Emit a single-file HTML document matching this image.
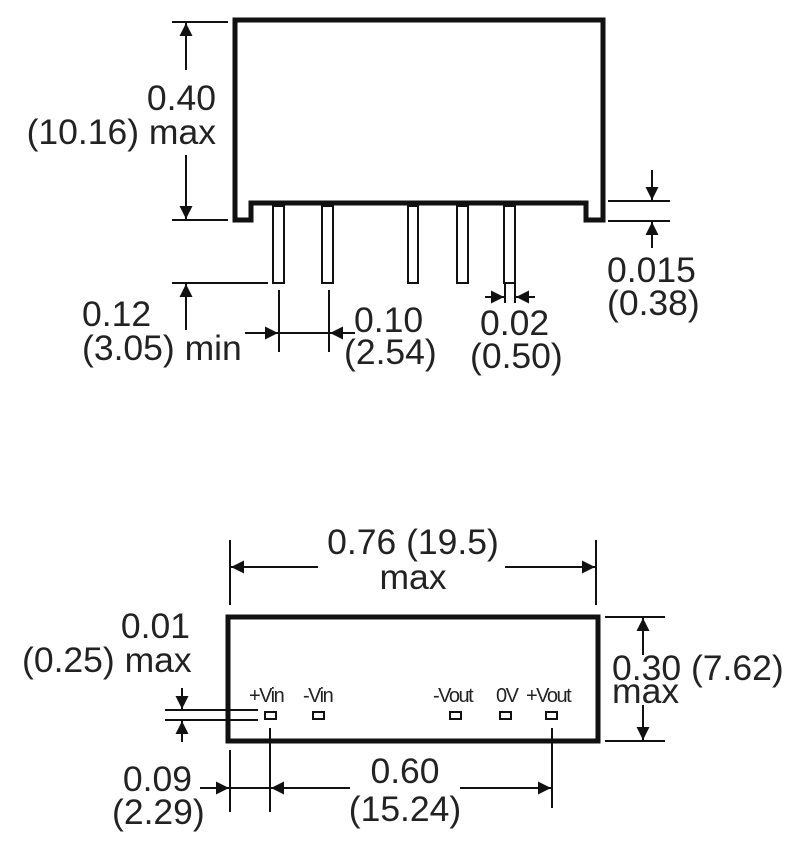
<!DOCTYPE html>
<html><head><meta charset="utf-8"><style>
html,body{margin:0;padding:0;background:#fff}
svg{display:block}
text{font-family:"Liberation Sans",sans-serif;fill:#222}
.b{font-size:35.5px}
.s{font-size:20px;letter-spacing:-1.5px}
</style></head><body>
<svg width="800" height="852" viewBox="0 0 800 852" xmlns="http://www.w3.org/2000/svg">
<defs>
<marker id="a" viewBox="0 0 10 10" refX="10" refY="5" markerWidth="15" markerHeight="13" markerUnits="userSpaceOnUse" orient="auto"><path d="M0,0L10,5L0,10Z" fill="#111"/></marker>
</defs>
<g stroke="#111" fill="none">
<path d="M235,20H603V220H586V203H251V220H235Z" stroke-width="5"/>
<g stroke-width="2">
<rect x="273" y="206" width="11" height="77"/>
<rect x="322" y="206" width="11" height="77"/>
<rect x="408" y="206" width="10" height="77"/>
<rect x="457" y="206" width="11" height="77"/>
<rect x="504" y="206" width="11" height="77"/>
</g>
<g stroke-width="2">
<line x1="172" y1="22" x2="228" y2="22"/>
<line x1="172" y1="220" x2="228" y2="220"/>
<line x1="172" y1="283" x2="268" y2="283"/>
<line x1="186" y1="70" x2="186" y2="23" marker-end="url(#a)"/>
<line x1="186" y1="155" x2="186" y2="219" marker-end="url(#a)"/>
<line x1="186" y1="330" x2="186" y2="284" marker-end="url(#a)"/>
<line x1="279" y1="290" x2="279" y2="352"/>
<line x1="329" y1="290" x2="329" y2="352"/>
<line x1="245" y1="333" x2="278" y2="333" marker-end="url(#a)"/>
<line x1="279" y1="333" x2="329" y2="333"/>
<line x1="355" y1="333" x2="330" y2="333" marker-end="url(#a)"/>
<line x1="505" y1="283" x2="505" y2="303"/>
<line x1="515" y1="283" x2="515" y2="303"/>
<line x1="485" y1="297" x2="504" y2="297" marker-end="url(#a)"/>
<line x1="535" y1="297" x2="516" y2="297" marker-end="url(#a)"/>
<line x1="608" y1="201" x2="670" y2="201"/>
<line x1="608" y1="221" x2="670" y2="221"/>
<line x1="652" y1="170" x2="652" y2="200" marker-end="url(#a)"/>
<line x1="652" y1="248" x2="652" y2="222" marker-end="url(#a)"/>
</g>
<rect x="228" y="617" width="370" height="124" stroke-width="5"/>
<g stroke-width="2">
<rect x="265" y="712" width="11" height="7"/>
<rect x="313" y="712" width="11" height="7"/>
<rect x="450" y="712" width="11" height="7"/>
<rect x="500" y="712" width="11" height="7"/>
<rect x="546" y="712" width="11" height="7"/>
<line x1="230" y1="540" x2="230" y2="605"/>
<line x1="596" y1="540" x2="596" y2="605"/>
<line x1="318" y1="567" x2="231" y2="567" marker-end="url(#a)"/>
<line x1="505" y1="567" x2="595" y2="567" marker-end="url(#a)"/>
<line x1="605" y1="617" x2="665" y2="617"/>
<line x1="605" y1="741" x2="665" y2="741"/>
<line x1="643" y1="655" x2="643" y2="618" marker-end="url(#a)"/>
<line x1="643" y1="705" x2="643" y2="740" marker-end="url(#a)"/>
<line x1="165" y1="710" x2="258" y2="710"/>
<line x1="165" y1="720" x2="258" y2="720"/>
<line x1="182" y1="688" x2="182" y2="709" marker-end="url(#a)"/>
<line x1="182" y1="742" x2="182" y2="721" marker-end="url(#a)"/>
<line x1="230" y1="750" x2="230" y2="812"/>
<line x1="270" y1="728" x2="270" y2="812"/>
<line x1="552" y1="728" x2="552" y2="808"/>
<line x1="200" y1="788" x2="229" y2="788" marker-end="url(#a)"/>
<line x1="230" y1="788" x2="270" y2="788"/>
<line x1="350" y1="788" x2="271" y2="788" marker-end="url(#a)"/>
<line x1="460" y1="788" x2="551" y2="788" marker-end="url(#a)"/>
</g>
</g>
<text class="b" x="216" y="110" text-anchor="end">0.40</text>
<text class="b" x="216" y="144" text-anchor="end">(10.16) max</text>
<text class="b" x="82" y="326">0.12</text>
<text class="b" x="82" y="360">(3.05) min</text>
<text class="b" x="354" y="332">0.10</text>
<text class="b" x="344" y="364">(2.54)</text>
<text class="b" x="480" y="335">0.02</text>
<text class="b" x="470" y="368">(0.50)</text>
<text class="b" x="607" y="282">0.015</text>
<text class="b" x="607" y="315">(0.38)</text>
<text class="b" x="413" y="554" text-anchor="middle">0.76 (19.5)</text>
<text class="b" x="413" y="589" text-anchor="middle">max</text>
<text class="b" x="612" y="680">0.30 (7.62)</text>
<text class="b" x="612" y="703">max</text>
<text class="b" x="190" y="638" text-anchor="end">0.01</text>
<text class="b" x="22" y="672">(0.25) max</text>
<text class="b" x="405" y="783" text-anchor="middle">0.60</text>
<text class="b" x="405" y="821" text-anchor="middle">(15.24)</text>
<text class="b" x="192" y="791" text-anchor="end">0.09</text>
<text class="b" x="112" y="824">(2.29)</text>
<text class="s" x="249" y="702">+Vin</text>
<text class="s" x="303" y="702">-Vin</text>
<text class="s" x="433" y="702">-Vout</text>
<text class="s" x="496" y="702">0V</text>
<text class="s" x="526" y="702">+Vout</text>
</svg>
</body></html>
